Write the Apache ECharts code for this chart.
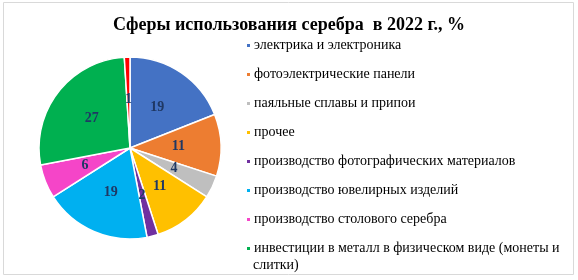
<!DOCTYPE html>
<html>
<head>
<meta charset="utf-8">
<script src="https://cdn.jsdelivr.net/npm/echarts@6/dist/echarts.min.js"></script>
<style>
  html, body { margin: 0; padding: 0; background: #fff; }
  #chart { width: 578px; height: 280px; }
</style>
</head>
<body>
<div id="chart"></div>
<script>
// данные диаграммы
const categories = [
    'электрика и электроника',
    'фотоэлектрические панели',
    'паяльные сплавы и припои',
    'прочее',
    'производство фотографических материалов',
    'производство ювелирных изделий',
    'производство столового серебра',
    'инвестиции в металл в физическом виде (монеты и слитки)',
    'прочее (без подписи)'
]
const values = [19, 11, 4, 11, 2, 19, 6, 27, 1]
const colors = ['#4472C4', '#ED7D31', '#BFBFBF', '#FFC000', '#7030A0', '#00B0F0', '#F545C8', '#00B050', '#FF0000']
const legendNames = categories.slice(0, 8)
// перенос последней подписи: первая строка в легенде, остаток ниже
const wrapTail = ' слитки)'

const chart = echarts.init(document.getElementById('chart'))

const legendFont = {
    fontFamily: 'Liberation Serif',
    fontSize: 14,
    lineHeight: 17,
    color: '#000'
}

const option = {
    animation: false,
    title: {
        text: 'Сферы использования серебра  в 2022 г., %',
        left: 'center',
        top: 11,
        textStyle: {
            fontFamily: 'Liberation Serif',
            fontSize: 18,
            fontWeight: 'bold',
            color: '#000'
        }
    },
    graphic: [{
        type: 'rect',
        shape: { x: 3.5, y: 2.5, width: 570, height: 272 },
        style: { fill: 'none', stroke: '#D9D9D9', lineWidth: 1 },
        silent: true
    }, {
        type: 'text',
        left: 253,
        top: 258,
        style: Object.assign({ text: wrapTail.trim() }, {
            font: '14px "Liberation Serif"',
            fill: '#000'
        }),
        silent: true
    }],
    legend: {
        orient: 'vertical',
        left: 245,
        top: 37,
        height: 600,
        padding: 0,
        data: legendNames,
        itemWidth: 5,
        itemHeight: 5,
        itemGap: 12,
        icon: 'rect',
        formatter: (name) => name.endsWith(wrapTail) ? name.slice(0, -wrapTail.length) : name,
        textStyle: Object.assign({ padding: [0, 0, 0, -2] }, legendFont)
    },
    series: [{
        type: 'pie',
        center: [130, 148],
        radius: 91,
        startAngle: 90,
        clockwise: true,
        data: categories.map((name, i) => ({
            name: name,
            value: values[i],
            itemStyle: { color: colors[i] }
        })),
        itemStyle: { borderColor: '#fff', borderWidth: 1.5 },
        label: {
            position: 'inside',
            formatter: '{c}',
            fontFamily: 'Liberation Serif',
            fontSize: 14,
            fontWeight: 'bold',
            color: '#1F3864'
        },
        labelLine: { show: false },
        emphasis: { disabled: true }
    }]
}

chart.setOption(option)
</script>
</body>
</html>
